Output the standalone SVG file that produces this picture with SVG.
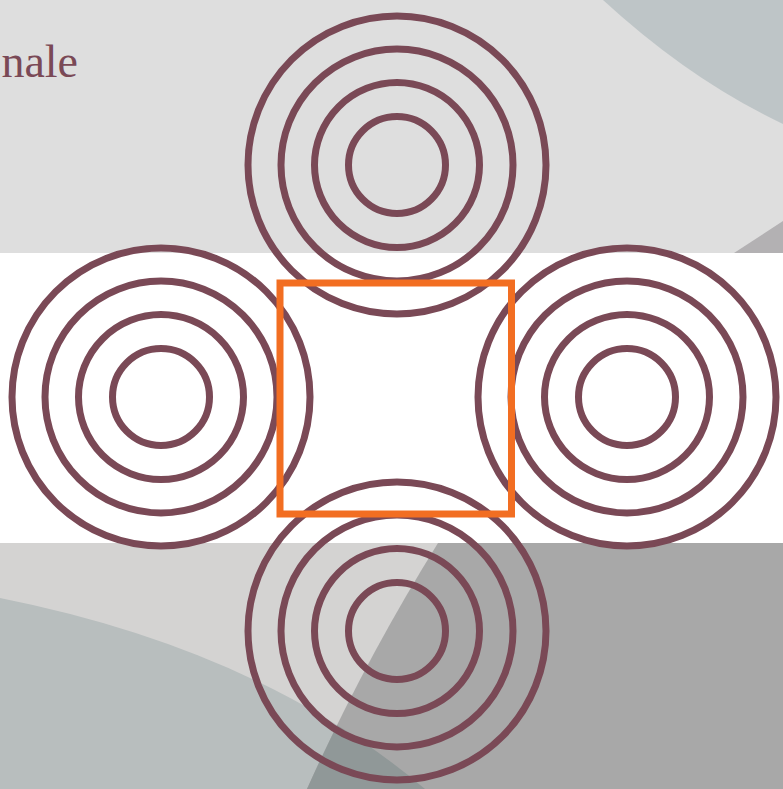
<svg xmlns="http://www.w3.org/2000/svg" xmlns:xlink="http://www.w3.org/1999/xlink" width="783" height="789" viewBox="0 0 783 789">
  <style>
    .ring { fill: none; stroke: #7a4956; stroke-width: 7; }
    .title { font-family: "Liberation Serif", "DejaVu Serif", serif; font-size: 46px; fill: #7a4956; }
  </style>
  <defs>
    <g id="target">
      <circle class="ring" cx="0" cy="0" r="149"/>
      <circle class="ring" cx="0" cy="0" r="116"/>
      <circle class="ring" cx="0" cy="0" r="82.5"/>
      <circle class="ring" cx="0" cy="0" r="48.5"/>
    </g>
    <clipPath id="blueClip">
      <path d="M0,598 Q261,650 425,789 L0,789 Z"/>
    </clipPath>
  </defs>

  <g id="background">
    <rect x="0" y="0" width="783" height="253" fill="#dedede"/>
    <path d="M603,0 Q690,80 783,124 L783,0 Z" fill="#bec5c7"/>
    <path d="M734,253 L783,221 L783,253 Z" fill="#b3b1b3"/>
    <rect x="0" y="253" width="783" height="290" fill="#ffffff"/>
    <rect x="0" y="543" width="783" height="246" fill="#d4d3d2"/>
    <path d="M0,598 Q261,650 425,789 L0,789 Z" fill="#b8bebe"/>
    <path d="M438,543 Q364,662 307,789 L783,789 L783,543 Z" fill="#a8a8a8"/>
    <path d="M438,543 Q364,662 307,789 L783,789 L783,543 Z" fill="#909898" clip-path="url(#blueClip)"/>
  </g>

  <text class="title" x="78" y="77" text-anchor="end">nale</text>

  <g id="node-top"><use xlink:href="#target" href="#target" x="397" y="165"/></g>
  <g id="node-left"><use xlink:href="#target" href="#target" x="161" y="397"/></g>
  <g id="node-right"><use xlink:href="#target" href="#target" x="627" y="397"/></g>
  <g id="node-bottom"><use xlink:href="#target" href="#target" x="397" y="631"/></g>

  <g id="node-center">
    <rect x="280" y="283" width="231.5" height="231" fill="none" stroke="#f26e22" stroke-width="7"/>
  </g>
</svg>
